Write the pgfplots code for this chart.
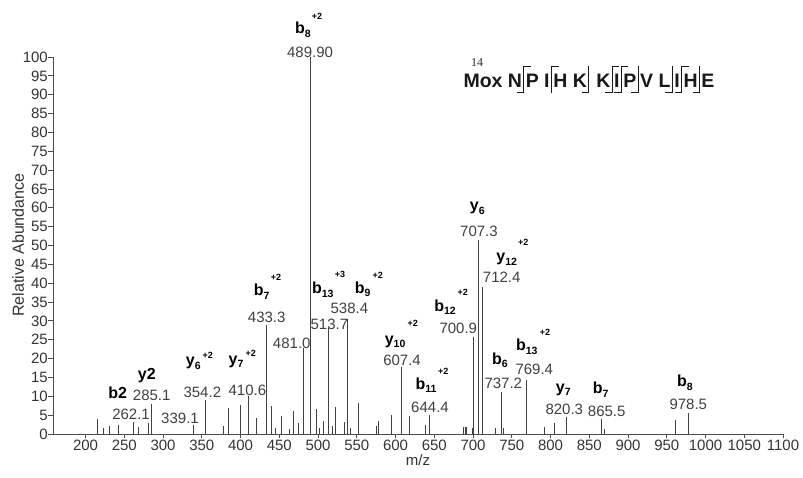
\documentclass[border=0pt]{standalone}
\usepackage{fontspec}
\setmainfont{Liberation Sans}
\newfontfamily\serifnum{Liberation Serif}
\usepackage{pgfplots}
\pgfplotsset{compat=1.18}
\newcommand\bmk{\kern1.4pt\llap{\rule[-6pt]{6.5pt}{1pt}}\rule[-6pt]{1pt}{27.5pt}\kern1.4pt}
\newcommand\ymk{\kern1.4pt\rule[-6pt]{1pt}{27.5pt}\rlap{\rule[20.5pt]{6.5pt}{1pt}}\kern1.4pt}
\newcommand\bymk{\kern1.4pt\llap{\rule[-6pt]{6.5pt}{1pt}}\rule[-6pt]{1pt}{27.5pt}\rlap{\rule[20.5pt]{6.5pt}{1pt}}\kern1.4pt}
\newcommand\ion[2]{#1\raisebox{-3.5pt}{\fontsize{10.5}{10.5}\selectfont\bfseries #2}}
\tikzset{
  numlab/.style={font=\fontsize{15}{15}\selectfont, text=black!75, inner sep=0},
  ionlab/.style={font=\fontsize{16}{16}\selectfont\bfseries, inner sep=0},
  chglab/.style={font=\fontsize{9}{9}\selectfont\bfseries, inner sep=0},
}
\begin{document}
\begin{tikzpicture}
\path[use as bounding box] (-53pt,-44pt) rectangle (750pt,434pt);
\begin{axis}[
  at={(0pt,0pt)}, anchor=south west, scale only axis,
  width=730pt, height=377pt,
  xmin=158, xmax=1100, ymin=0, ymax=100,
  axis lines*=left,
  axis line style={black!70, line width=0.9pt},
  xtick={200,250,...,1100}, ytick={0,5,...,100},
  tick align=outside, major tick length=4.5pt,
  tick style={black!70, line width=0.8pt},
  /pgf/number format/assume math mode=true,
  /pgf/number format/set thousands separator={},
  ticklabel style={font=\fontsize{15}{15}\selectfont, text=black!80},
  xticklabel style={inner sep=1pt},
  yticklabel style={inner sep=0.5pt},
  clip=false,
]
\addplot[ycomb, black!75, line width=0.9pt, mark=none] coordinates {
(215.9,4.0) (223.7,1.5) (230.6,2.0) (242.6,2.3) (262.1,3.2) (268,1.8)
(281.7,3.0) (285.1,8.0) (339.1,2.3) (354.2,9.0) (378,2.0) (385,7.0)
(400,7.8) (410.6,10.0) (420.6,4.2) (433.3,29.0) (440.4,7.5) (445.5,1.6)
(452.9,4.8) (463,1.3) (468.4,6.2) (475.3,3.0) (481.0,22.8) (489.9,100)
(497.6,6.5) (501.5,1.5) (507,3.5) (513.7,28.0) (518.7,2.2) (522.2,7.2)
(534.6,3.2) (538.4,30.5) (542.4,1.6) (552.3,8.2) (575.9,2.0) (578.5,3.5)
(595.2,5.0) (607.4,17.9) (618,4.9) (639,2.3) (644.4,5.0) (688,1.8)
(690,1.8) (691.6,1.8) (699,1.5) (700.9,25.6) (707.3,51.5) (712.4,38.9)
(729.5,1.7) (737.2,11.2) (739,1.5) (769.4,14.3) (791.9,1.8) (804.8,3.0)
(820.3,4.6) (865.5,4.0) (869,1.3) (960.9,3.7) (978.5,5.6)
};
% axis labels
\node[font=\fontsize{15}{15}\selectfont, text=black!80] at (axis cs:629,-6.9) {m/z};
\node[font=\fontsize{16}{16}\selectfont, text=black!80, rotate=90] at (axis cs:112.9,50.1) {Relative Abundance};
% peak labels
\node[ionlab] at (axis cs:241.5,10.8) {b2};
\node[numlab] at (axis cs:258.7,5.2) {262.1};
\node[ionlab] at (axis cs:279.0,15.5) {y2};
\node[numlab] at (axis cs:285.4,10.2) {285.1};
\node[numlab] at (axis cs:321.9,4.2) {339.1};
\node[ionlab] at (axis cs:339.1,18.75) {\ion{y}{6}};
\node[chglab] at (axis cs:357.7,20.95) {+2};
\node[numlab] at (axis cs:350.7,11.1) {354.2};
\node[ionlab] at (axis cs:394.2,19.2) {\ion{y}{7}};
\node[chglab] at (axis cs:413.2,21.4) {+2};
\node[numlab] at (axis cs:408.8,11.5) {410.6};
\node[ionlab] at (axis cs:427.4,37.7) {\ion{b}{7}};
\node[chglab] at (axis cs:445.8,41.5) {+2};
\node[numlab] at (axis cs:433.8,31.0) {433.3};
\node[numlab] at (axis cs:466.1,24.1) {481.0};
\node[ionlab] at (axis cs:480.6,107.2) {\ion{b}{8}};
\node[chglab] at (axis cs:498.7,110.9) {+2};
\node[numlab] at (axis cs:489.7,101.3) {489.90};
\node[ionlab] at (axis cs:506.1,38.2) {\ion{b}{13}};
\node[chglab] at (axis cs:528.4,42.2) {+3};
\node[numlab] at (axis cs:514.6,29.1) {513.7};
\node[ionlab] at (axis cs:557.7,38.4) {\ion{b}{9}};
\node[chglab] at (axis cs:577.0,42.2) {+2};
\node[numlab] at (axis cs:540.4,33.2) {538.4};
\node[ionlab] at (axis cs:599.4,24.4) {\ion{y}{10}};
\node[chglab] at (axis cs:622.2,29.4) {+2};
\node[numlab] at (axis cs:608.4,19.6) {607.4};
\node[ionlab] at (axis cs:639.3,13.0) {\ion{b}{11}};
\node[chglab] at (axis cs:661.7,16.5) {+2};
\node[numlab] at (axis cs:644.5,7.0) {644.4};
\node[ionlab] at (axis cs:663.9,33.6) {\ion{b}{12}};
\node[chglab] at (axis cs:686.7,37.7) {+2};
\node[numlab] at (axis cs:681.0,28.0) {700.9};
\node[ionlab] at (axis cs:705.5,59.9) {\ion{y}{6}};
\node[numlab] at (axis cs:707.7,53.7) {707.3};
\node[ionlab] at (axis cs:743.5,46.3) {\ion{y}{12}};
\node[chglab] at (axis cs:764.9,50.8) {+2};
\node[numlab] at (axis cs:737.0,41.6) {712.4};
\node[ionlab] at (axis cs:734.8,19.6) {\ion{b}{6}};
\node[numlab] at (axis cs:739.1,13.4) {737.2};
\node[ionlab] at (axis cs:769.3,23.2) {\ion{b}{13}};
\node[chglab] at (axis cs:792.9,26.9) {+2};
\node[numlab] at (axis cs:779.1,17.2) {769.4};
\node[ionlab] at (axis cs:816.5,11.7) {\ion{y}{7}};
\node[numlab] at (axis cs:817.8,6.6) {820.3};
\node[ionlab] at (axis cs:864.8,11.7) {\ion{b}{7}};
\node[numlab] at (axis cs:872.5,5.9) {865.5};
\node[ionlab] at (axis cs:973.5,13.6) {\ion{b}{8}};
\node[numlab] at (axis cs:977.8,8.0) {978.5};
% sequence
\node[anchor=base west, inner sep=0, font=\fontsize{19.5}{19.5}\selectfont\bfseries, text=black!90] at (axis cs:687.5,92.0)
  {Mox N\bymk P I\ymk H K\bmk\ K\bymk I\bymk P\bmk V L\bmk I\bymk H\bmk E};
\node[inner sep=0, font=\serifnum\fontsize{12}{12}\selectfont, text=black!85] at (axis cs:705.2,98.4) {14};
\end{axis}
\end{tikzpicture}
\end{document}
